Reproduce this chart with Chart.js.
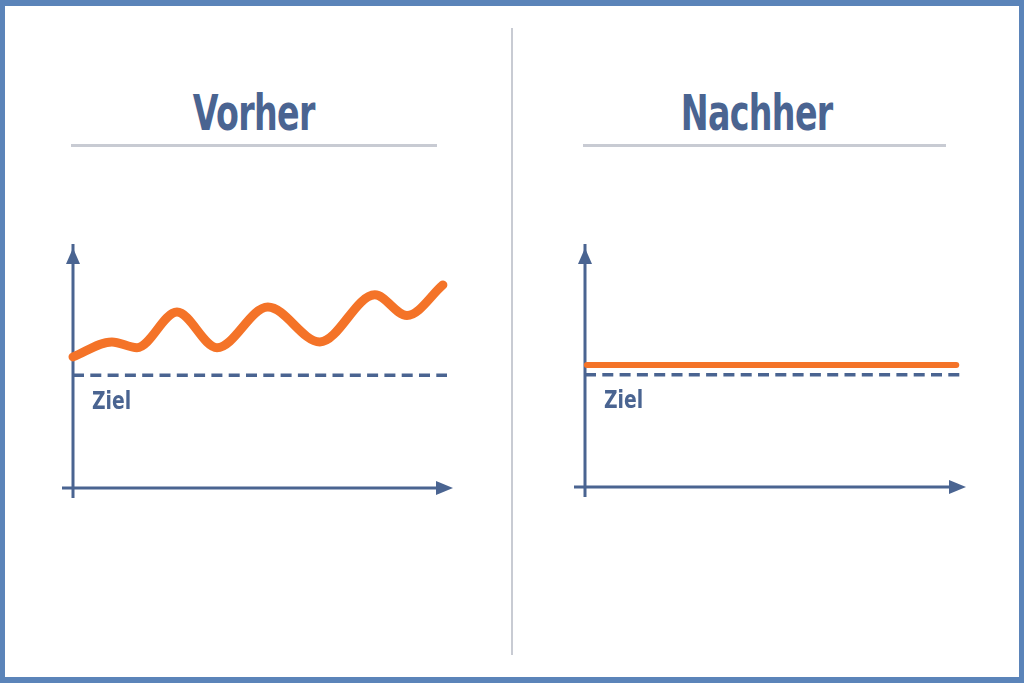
<!DOCTYPE html>
<html>
<head>
<meta charset="utf-8">
<script src="https://cdn.jsdelivr.net/npm/chart.js@4"></script>
<style>
  html, body { margin: 0; padding: 0; }
  body {
    width: 1024px; height: 683px; position: relative; overflow: hidden;
    background: #5b84b9;
  }
  .sheet {
    position: absolute; left: 5px; top: 6px; width: 1014px; height: 671px;
    background: #ffffff;
  }
  .divider {
    position: absolute; left: 511px; top: 28px; width: 2px; height: 627px;
    background: #c8cbd3;
  }
  .title {
    position: absolute; top: 84px; height: 60px; margin: 0;
    border-bottom: 3px solid #c8cbd3;
    font-family: "DejaVu Sans", sans-serif;
    font-weight: bold; font-size: 49px; line-height: 60px;
    color: #4a6491; text-align: center;
  }
  .title span { display: inline-block; transform: scaleX(0.68); letter-spacing: -1px; }
  .chart-box { position: absolute; top: 230px; width: 440px; height: 290px; }
</style>
</head>
<body>
<div class="sheet"></div>
<div class="divider"></div>
<h1 class="title" style="left:71px; width:366px;"><span>Vorher</span></h1>
<h1 class="title" style="left:583px; width:347px; padding-right:16px;"><span>Nachher</span></h1>
<div class="chart-box" style="left:40px;"><canvas id="beforeChart"></canvas></div>
<div class="chart-box" style="left:550px;"><canvas id="afterChart"></canvas></div>

<script>
// values (x: 0-100 time, y: 0-100 level)
const goalLabel = 'Ziel';
const goalValue = 49;

const beforeX = [0, 10.4, 17.1, 27.8, 38.5, 52.1, 66, 80.7, 89.3, 98.9];
const beforeY = [57, 63.5, 61, 76.5, 61, 78.7, 63.5, 84, 75, 88.3];

const afterX = [0.5, 99];
const afterY = [53.3, 53.3];

const goalX = [0, 100];

const navy = '#4a6491';
const orange = '#f47328';
const labelFont = 'bold 24px "DejaVu Sans", sans-serif';

const toPoints = (xs, ys) => xs.map((x, i) => ({ x: x, y: ys[i] }));

// draws both axes with arrow heads, plus the "Ziel" label under the dashed line
const axesPlugin = {
    id: 'arrowAxes',
    beforeDatasetsDraw(chart) {
        const { ctx, chartArea: a } = chart;
        ctx.save();
        ctx.strokeStyle = navy;
        ctx.fillStyle = navy;
        ctx.lineWidth = 3;
        ctx.beginPath();
        ctx.moveTo(a.left, a.bottom + 10);
        ctx.lineTo(a.left, a.top - 14);
        ctx.moveTo(a.left - 11, a.bottom);
        ctx.lineTo(a.right - 8, a.bottom);
        ctx.stroke();
        // up arrow
        ctx.beginPath();
        ctx.moveTo(a.left, a.top - 10);
        ctx.lineTo(a.left - 7, a.top + 6);
        ctx.lineTo(a.left + 7, a.top + 6);
        ctx.closePath();
        ctx.fill();
        // right arrow
        ctx.beginPath();
        ctx.moveTo(a.right + 6, a.bottom);
        ctx.lineTo(a.right - 11, a.bottom - 7);
        ctx.lineTo(a.right - 11, a.bottom + 7);
        ctx.closePath();
        ctx.fill();
        ctx.restore();
    },
    afterDatasetsDraw(chart) {
        const { ctx, chartArea: a, scales } = chart;
        const y = scales.y.getPixelForValue(goalValue);
        ctx.save();
        ctx.fillStyle = navy;
        ctx.font = labelFont;
        ctx.textBaseline = 'top';
        ctx.translate(a.left + 19, y + 15);
        ctx.scale(0.78, 1);
        ctx.fillText(goalLabel, 0, 0);
        ctx.restore();
    }
};

function makeChart(id, linePoints, lineWidth, smooth, padding) {
    return new Chart(document.getElementById(id), {
        type: 'line',
        data: {
            datasets: [
                {
                    label: goalLabel,
                    data: toPoints(goalX, [goalValue, goalValue]),
                    borderColor: navy,
                    borderWidth: 3.5,
                    borderDash: [11, 6.3],
                    pointRadius: 0,
                    clip: false
                },
                {
                    label: 'Wert',
                    data: linePoints,
                    borderColor: orange,
                    borderWidth: lineWidth,
                    borderCapStyle: 'round',
                    borderJoinStyle: 'round',
                    cubicInterpolationMode: smooth ? 'monotone' : 'default',
                    tension: 0,
                    pointRadius: 0,
                    clip: false
                }
            ]
        },
        options: {
            responsive: true,
            maintainAspectRatio: false,
            animation: false,
            layout: { padding: padding },
            scales: {
                x: { type: 'linear', min: 0, max: 100, display: false },
                y: { type: 'linear', min: 0, max: 100, display: false }
            },
            plugins: {
                legend: { display: false },
                tooltip: { enabled: false }
            }
        },
        plugins: [axesPlugin]
    });
}

makeChart('beforeChart', toPoints(beforeX, beforeY), 9, true,
    { left: 33, right: 33, top: 28, bottom: 32 });
makeChart('afterChart', toPoints(afterX, afterY), 6, false,
    { left: 35, right: 30, top: 28, bottom: 33 });
</script>
</body>
</html>
